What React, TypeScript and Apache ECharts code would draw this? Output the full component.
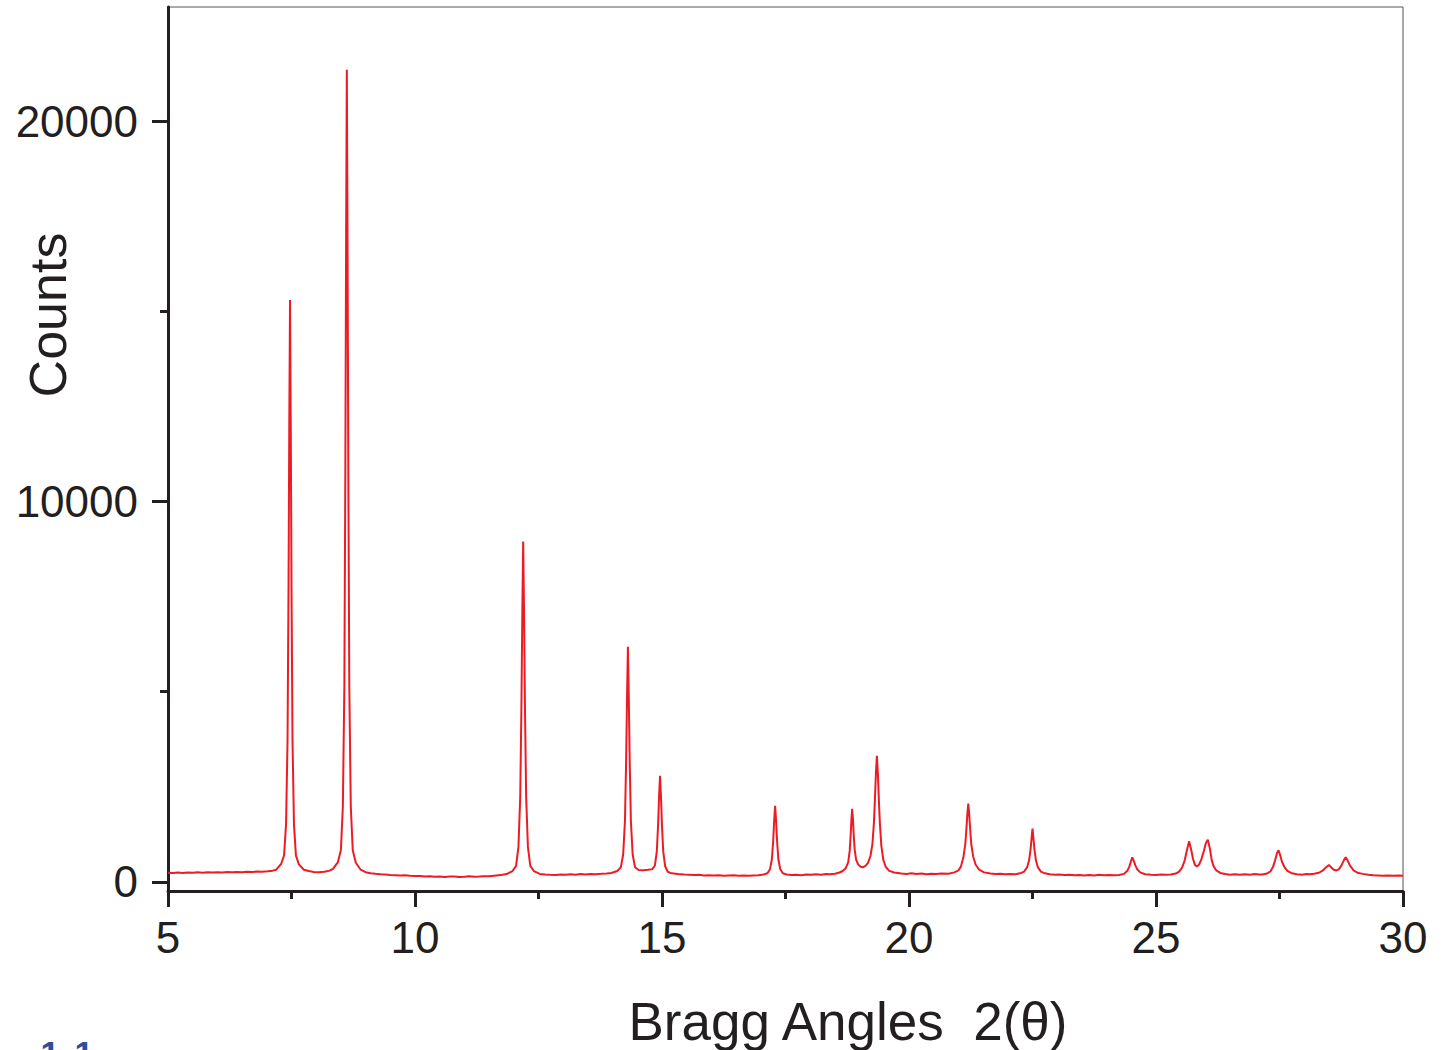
import React, { useEffect, useRef } from "react";
import * as echarts from "echarts";

// ---- Data: X-ray powder diffraction pattern (2θ in degrees, counts) ----
const baseA = [[5.0,240],[5.1,232],[5.2,245],[5.3,236],[5.4,248],[5.5,238],[5.6,250],[5.7,240],[5.8,252],[5.9,244],[6.0,255],[6.1,246],[6.2,258],[6.3,250],[6.4,262],[6.5,254],[6.6,265],[6.7,258],[6.8,270],[6.9,264]];
const peak1 = [[7.02,280],[7.12,295],[7.19,320],[7.29,470],[7.35,700],[7.39,1520],[7.42,3750],[7.44,7800],[7.455,11970],[7.47,15300],[7.485,11970],[7.5,7800],[7.52,3750],[7.55,1510],[7.59,690],[7.65,460],[7.75,320],[7.85,285],[7.95,262],[8.05,250]];
const peak2 = [[8.17,265],[8.27,295],[8.34,340],[8.44,520],[8.5,840],[8.54,2000],[8.57,5150],[8.59,10850],[8.605,16700],[8.62,21350],[8.635,16690],[8.65,10840],[8.67,5140],[8.7,1990],[8.74,830],[8.8,510],[8.9,320],[9.0,255],[9.1,228]];
const baseB = [[9.2,212],[9.3,200],[9.4,194],[9.5,182],[9.6,176],[9.7,166],[9.8,172],[9.9,158],[10.0,152],[10.1,156],[10.2,142],[10.3,148],[10.4,136],[10.5,140],[10.6,130],[10.7,138],[10.8,142],[10.9,128],[11.0,136],[11.1,145],[11.2,132],[11.3,140],[11.4,150],[11.5,145]];
const peak3 = [[11.65,170],[11.77,188],[11.854,205],[11.974,285],[12.046,420],[12.094,920],[12.13,2230],[12.154,4580],[12.172,7020],[12.19,8945],[12.208,7020],[12.226,4580],[12.25,2230],[12.286,920],[12.334,420],[12.406,285],[12.526,210],[12.63,194],[12.73,186]];
const baseC = [[12.85,180],[12.95,192],[13.05,185],[13.15,198],[13.25,190],[13.35,205],[13.45,196],[13.55,210],[13.65,202]];
const peak4 = [[13.77,212],[13.88,222],[13.974,235],[14.094,285],[14.166,380],[14.214,720],[14.25,1600],[14.274,3190],[14.292,4840],[14.31,6180],[14.328,4840],[14.346,3190],[14.37,1600],[14.406,720],[14.454,385],[14.526,310],[14.6,308],[14.66,312],[14.72,318]];
const peak5 = [[14.804,335],[14.856,430],[14.895,800],[14.921,1500],[14.94,2220],[14.96,2790],[14.98,2218],[14.999,1490],[15.025,795],[15.064,410],[15.116,265],[15.194,225],[15.324,205],[15.45,195],[15.55,188]];
const baseD = [[15.65,178],[15.75,185],[15.85,170],[15.95,176],[16.05,165],[16.15,172],[16.25,160],[16.35,168],[16.45,175],[16.55,162],[16.65,170],[16.75,158],[16.85,168],[16.95,175]];
const peak6 = [[17.056,195],[17.134,225],[17.186,330],[17.225,600],[17.251,1085],[17.27,1597],[17.29,2000],[17.31,1597],[17.329,1085],[17.355,600],[17.394,330],[17.446,225],[17.524,195]];
const baseE = [[17.62,180],[17.72,190],[17.82,176],[17.92,195],[18.02,185],[18.12,200],[18.22,190],[18.32,205]];
const peaks7and8 = [[18.4,200],[18.5,215],[18.58,240],[18.65,280],[18.72,360],[18.77,520],[18.8,820],[18.82,1250],[18.835,1650],[18.85,1920],[18.865,1650],[18.88,1250],[18.9,850],[18.93,580],[18.97,460],[19.02,400],[19.07,385],[19.12,420],[19.17,500],[19.22,680],[19.26,1000],[19.29,1550],[19.31,2150],[19.33,2850],[19.35,3315],[19.37,2850],[19.39,2150],[19.41,1550],[19.44,950],[19.48,580],[19.53,390],[19.6,290],[19.7,245],[19.85,220]];
const baseF = [[19.95,210],[20.05,225],[20.15,205],[20.25,218],[20.35,200],[20.45,215],[20.55,208],[20.65,222]];
const peak9 = [[20.8,215],[20.92,250],[21.0,300],[21.05,400],[21.1,640],[21.14,1000],[21.165,1450],[21.185,1850],[21.2,2060],[21.215,1850],[21.235,1450],[21.26,1000],[21.3,660],[21.35,450],[21.42,320],[21.52,250],[21.65,220]];
const baseG = [[21.75,205],[21.85,215],[21.95,198],[22.05,210]];
const peak10 = [[22.15,200],[22.25,225],[22.33,270],[22.39,380],[22.43,560],[22.46,850],[22.485,1200],[22.5,1400],[22.515,1200],[22.54,850],[22.57,560],[22.61,380],[22.67,270],[22.75,225],[22.85,200]];
const baseH = [[22.95,185],[23.05,195],[23.15,178],[23.25,188],[23.35,172],[23.45,182],[23.55,168],[23.65,180],[23.75,170],[23.85,185],[23.95,175],[24.05,182],[24.15,172]];
const peak11 = [[24.25,180],[24.35,210],[24.42,290],[24.46,400],[24.49,530],[24.52,645],[24.55,560],[24.58,440],[24.62,330],[24.68,250],[24.78,200],[24.9,185]];
const baseI = [[25.0,178],[25.1,192],[25.2,185]];
const peaks12and13 = [[25.3,195],[25.4,220],[25.47,270],[25.53,380],[25.58,560],[25.62,800],[25.67,1065],[25.71,860],[25.75,600],[25.79,440],[25.83,405],[25.87,450],[25.92,600],[25.97,820],[26.01,1020],[26.05,1105],[26.09,880],[26.13,560],[26.17,400],[26.22,300],[26.3,235],[26.4,205]];
const baseJ = [[26.5,190],[26.6,200],[26.7,185],[26.8,198],[26.9,190],[27.0,205],[27.08,195]];
const peak14 = [[27.15,195],[27.25,220],[27.32,280],[27.37,400],[27.41,560],[27.45,760],[27.48,830],[27.51,720],[27.55,530],[27.6,390],[27.66,290],[27.75,225],[27.85,200]];
const baseK = [[27.95,190],[28.05,205],[28.12,198]];
const peaks15and16 = [[28.2,215],[28.3,240],[28.38,300],[28.44,380],[28.5,445],[28.55,380],[28.6,320],[28.65,300],[28.7,330],[28.75,420],[28.8,560],[28.84,650],[28.88,560],[28.93,420],[29.0,300],[29.08,240],[29.18,210]];
const baseL = [[29.3,190],[29.4,175],[29.5,168],[29.6,160],[29.7,170],[29.8,158],[29.9,165],[30.0,160]];

const yMajorTicks = [0, 10000, 20000];
const yMinorTicks = [5000, 15000];
const xTitle = "Bragg Angles  2(θ)";
const yTitle = "Counts";

const INK = "#231f20";
const FONT = "'Liberation Sans', Arial, Helvetica, sans-serif";

export default function App() {
  const ref = useRef<HTMLDivElement>(null);

  useEffect(() => {
    document.body.style.margin = "0";
    const chart = echarts.init(ref.current as HTMLDivElement, null, { renderer: "svg" });
    const data = [
      ...baseA, ...peak1, ...peak2, ...baseB, ...peak3, ...baseC, ...peak4, ...peak5,
      ...baseD, ...peak6, ...baseE, ...peaks7and8, ...baseF, ...peak9, ...baseG,
      ...peak10, ...baseH, ...peak11, ...baseI, ...peaks12and13, ...baseJ, ...peak14,
      ...baseK, ...peaks15and16, ...baseL,
    ].sort((a, b) => a[0] - b[0]);

    chart.setOption({
      animation: false,
      backgroundColor: "#ffffff",
      grid: {
        left: 168, right: 38, top: 7, bottom: 159,
        show: true, borderColor: "#555555", borderWidth: 1, backgroundColor: "transparent",
      },
      xAxis: {
        type: "value", min: 5, max: 30, interval: 5,
        axisLine: { show: true, onZero: false, lineStyle: { color: INK, width: 3 } },
        axisTick: { show: true, inside: false, length: 16, lineStyle: { color: INK, width: 3 } },
        minorTick: { show: true, splitNumber: 2, length: 8, lineStyle: { color: INK, width: 3 } },
        splitLine: { show: false },
        minorSplitLine: { show: false },
        axisLabel: { fontSize: 44, color: INK, margin: 24, fontFamily: FONT },
      },
      yAxis: [
        {
          type: "value", min: -240, max: 23000,
          axisLine: { show: true, onZero: false, lineStyle: { color: INK, width: 3 } },
          axisTick: { show: true, inside: false, length: 16, customValues: yMajorTicks, lineStyle: { color: INK, width: 3 } },
          axisLabel: {
            fontSize: 44, color: INK, margin: 30, fontFamily: FONT,
            customValues: yMajorTicks, formatter: (v: number) => String(v),
          },
          splitLine: { show: false },
        },
        {
          type: "value", min: -240, max: 23000, position: "left",
          axisLine: { show: false, onZero: false },
          axisTick: { show: true, inside: false, length: 8, customValues: yMinorTicks, lineStyle: { color: INK, width: 3 } },
          axisLabel: { show: false },
          splitLine: { show: false },
        },
      ],
      series: [
        {
          type: "line", xAxisIndex: 0, yAxisIndex: 0, data,
          showSymbol: false, symbol: "none",
          lineStyle: { color: "#ed1c24", width: 2 },
          z: 1,
        },
      ],
      graphic: [
        {
          type: "text", x: 48, y: 315, rotation: Math.PI / 2,
          style: { text: yTitle, fontSize: 52, fill: INK, fontFamily: FONT, align: "center", verticalAlign: "middle" },
        },
        {
          type: "text", x: 848, y: 1021,
          style: { text: xTitle, fontSize: 53, fill: INK, fontFamily: FONT, align: "center", verticalAlign: "middle" },
        },
        {
          type: "text", x: 50, y: 1036,
          style: { text: "1", fontSize: 34, fontWeight: "bold", fill: "#2a4d9c", fontFamily: FONT, align: "center", verticalAlign: "top" },
        },
        {
          type: "text", x: 84, y: 1036,
          style: { text: "1", fontSize: 34, fontWeight: "bold", fill: "#2a4d9c", fontFamily: FONT, align: "center", verticalAlign: "top" },
        },
      ],
    });
    return () => chart.dispose();
  }, []);

  return <div ref={ref} style={{ width: 1441, height: 1050 }} />;
}
